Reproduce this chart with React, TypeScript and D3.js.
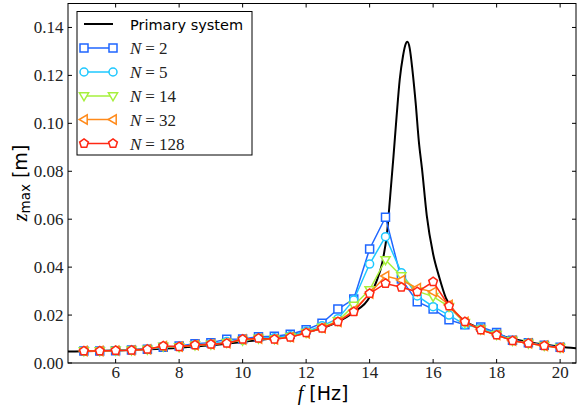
import React from "react";
import * as d3 from "d3";

// ---- data ----
const freqs = [5, 5.5, 6, 6.5, 7, 7.5, 8, 8.5, 9, 9.5, 10, 10.5, 11, 11.5, 12, 12.5, 13, 13.5, 14, 14.5, 15, 15.5, 16, 16.5, 17, 17.5, 18, 18.5, 19, 19.5, 20];

const zN2 = [0.0050, 0.0050, 0.0051, 0.0054, 0.0057, 0.0066, 0.0071, 0.0080, 0.0085, 0.0099, 0.0100, 0.0110, 0.0112, 0.0120, 0.0139, 0.0166, 0.0225, 0.0267, 0.0476, 0.0608, 0.0350, 0.0256, 0.0225, 0.0180, 0.0160, 0.0150, 0.0127, 0.0095, 0.0085, 0.0074, 0.0066];
const zN5 = [0.0050, 0.0050, 0.0052, 0.0054, 0.0057, 0.0068, 0.0068, 0.0076, 0.0080, 0.0090, 0.0095, 0.0105, 0.0105, 0.0114, 0.0132, 0.0155, 0.0185, 0.0263, 0.0413, 0.0527, 0.0377, 0.0280, 0.0235, 0.0200, 0.0160, 0.0145, 0.0122, 0.0094, 0.0084, 0.0073, 0.0065];
const zN14 = [0.0050, 0.0050, 0.0052, 0.0053, 0.0057, 0.0069, 0.0067, 0.0074, 0.0077, 0.0085, 0.0094, 0.0102, 0.0100, 0.0110, 0.0126, 0.0148, 0.0175, 0.0240, 0.0305, 0.0430, 0.0363, 0.0300, 0.0277, 0.0235, 0.0168, 0.0140, 0.0118, 0.0093, 0.0082, 0.0072, 0.0064];
const zN32 = [0.0050, 0.0050, 0.0052, 0.0053, 0.0057, 0.0070, 0.0068, 0.0075, 0.0078, 0.0083, 0.0098, 0.0102, 0.0099, 0.0108, 0.0124, 0.0146, 0.0172, 0.0220, 0.0290, 0.0363, 0.0346, 0.0312, 0.0297, 0.0242, 0.0172, 0.0139, 0.0117, 0.0093, 0.0082, 0.0072, 0.0064];
const zN128 = [0.0050, 0.0050, 0.0052, 0.0053, 0.0057, 0.0071, 0.0068, 0.0075, 0.0078, 0.0082, 0.0099, 0.0103, 0.0099, 0.0107, 0.0126, 0.0145, 0.0172, 0.0214, 0.0290, 0.0332, 0.0316, 0.0297, 0.0339, 0.0238, 0.0172, 0.0138, 0.0117, 0.0093, 0.0082, 0.0072, 0.0064];

const primaryF = [4.5, 5, 6, 7, 8, 9, 10, 11, 12, 12.5, 13, 13.5, 14, 14.2, 14.4, 14.55, 14.65, 14.75, 14.85, 14.95, 15.05, 15.12, 15.19, 15.26, 15.35, 15.45, 15.55, 15.65, 15.8, 16, 16.2, 16.4, 16.7, 17, 17.5, 18, 18.5, 19, 19.5, 20, 20.5];
const primaryZ = [0.0048, 0.0049, 0.0052, 0.0057, 0.0064, 0.0074, 0.0088, 0.0104, 0.0128, 0.0146, 0.0172, 0.0212, 0.0275, 0.0335, 0.0420, 0.0545, 0.0700, 0.0860, 0.1030, 0.1185, 0.1280, 0.1325, 0.1340, 0.1315, 0.1220, 0.1085, 0.0925, 0.0810, 0.0615, 0.0455, 0.0355, 0.0272, 0.0210, 0.0175, 0.0143, 0.0120, 0.0101, 0.0088, 0.0077, 0.0068, 0.0062];

const xTicks = [6, 8, 10, 12, 14, 16, 18, 20];
const yTicks = [0, 0.02, 0.04, 0.06, 0.08, 0.1, 0.12, 0.14];

const seriesNames = ["N2", "N5", "N14", "N32", "N128"];
const seriesLabels = ["2", "5", "14", "32", "128"];
const seriesValues = [zN2, zN5, zN14, zN32, zN128];
const seriesColors = ["#1f66ff", "#1ec8ff", "#a6f03c", "#ff8a1a", "#ff2814"];
const seriesMarkers = ["square", "circle", "triDown", "triLeft", "pentagon"];

// ---- layout ----
const W = 577;
const H = 406;
const L = 68, R = 576, T = 3.5, B = 363;

const x = d3.scaleLinear().domain([4.5, 20.5]).range([L, R]);
const y = d3.scaleLinear().domain([0, 0.15]).range([B, T]);

function markerPath(kind: string): string {
  switch (kind) {
    case "square":
      return "M-4,-4H4V4H-4Z";
    case "circle":
      return "M4,0A4,4 0 1,1 -4,0A4,4 0 1,1 4,0Z";
    case "triDown":
      return "M-4.6,-3.2L4.6,-3.2L0,4.8Z";
    case "triLeft":
      return "M3.2,-4.6L3.2,4.6L-4.8,0Z";
    case "pentagon": {
      const r = 4.6;
      const pts = d3.range(5).map((i) => {
        const a = -Math.PI / 2 + (i * 2 * Math.PI) / 5;
        return [r * Math.cos(a), r * Math.sin(a)];
      });
      return "M" + pts.map((p) => p[0].toFixed(2) + "," + p[1].toFixed(2)).join("L") + "Z";
    }
  }
  return "";
}

const serif = "'Liberation Serif', 'DejaVu Serif', serif";
const sans = "'DejaVu Sans', sans-serif";

export default function App() {
  const line = d3
    .line<number>()
    .x((_, i) => x(freqs[i]))
    .y((d) => y(d));
  const primaryLine = d3
    .line<number>()
    .x((_, i) => x(primaryF[i]))
    .y((d) => y(d))
    .curve(d3.curveMonotoneX);

  const legX0 = 84, legX1 = 113, legText = 130;
  const legRows = [24, 48, 72, 96, 119.5, 143.5];

  return (
    <svg width={W} height={H} style={{ position: "absolute", left: 0, top: 0, background: "#fff" }}>
      <defs>
        <clipPath id="plotclip">
          <rect x={L} y={T} width={R - L} height={B - T} />
        </clipPath>
      </defs>
      <rect x={0} y={0} width={W} height={H} fill="#fff" />

      <g clipPath="url(#plotclip)">
        <path d={primaryLine(primaryZ) || ""} fill="none" stroke="#000" strokeWidth={2} />
        {seriesValues.map((vals, si) => (
          <g key={seriesNames[si]}>
            <path d={line(vals) || ""} fill="none" stroke={seriesColors[si]} strokeWidth={1.5} />
            {vals.map((v, i) => (
              <path
                key={i}
                d={markerPath(seriesMarkers[si])}
                transform={`translate(${x(freqs[i])},${y(v)})`}
                fill="#fff"
                stroke={seriesColors[si]}
                strokeWidth={1.5}
              />
            ))}
          </g>
        ))}
      </g>

      {/* spines */}
      <rect x={L} y={T} width={R - L} height={B - T} fill="none" stroke="#000" strokeWidth={1} />

      {/* x ticks */}
      {xTicks.map((t) => (
        <g key={"x" + t}>
          <line x1={x(t)} x2={x(t)} y1={B} y2={B - 4} stroke="#000" strokeWidth={1} />
          <line x1={x(t)} x2={x(t)} y1={T} y2={T + 4} stroke="#000" strokeWidth={1} />
          <text x={x(t)} y={378} textAnchor="middle" fontFamily={serif} fontSize={17} fill="#222">
            {t}
          </text>
        </g>
      ))}

      {/* y ticks */}
      {yTicks.map((t) => (
        <g key={"y" + t}>
          <line x1={L} x2={L + 4} y1={y(t)} y2={y(t)} stroke="#000" strokeWidth={1} />
          <line x1={R} x2={R - 4} y1={y(t)} y2={y(t)} stroke="#000" strokeWidth={1} />
          <text x={63.5} y={y(t) + 5.8} textAnchor="end" fontFamily={serif} fontSize={17} fill="#222">
            {t.toFixed(2)}
          </text>
        </g>
      ))}

      {/* axis labels */}
      <text x={323} y={400} textAnchor="middle" fontFamily={sans} fontSize={19} fill="#000">
        <tspan fontFamily={serif} fontStyle="italic" fontSize={20}>f</tspan>
        <tspan> [Hz]</tspan>
      </text>
      <text transform="translate(26.5,183) rotate(-90)" textAnchor="middle" fontFamily={sans} fontSize={19} fill="#000">
        <tspan fontFamily={serif} fontStyle="italic" fontSize={20}>z</tspan>
        <tspan fontSize={13.5} dy={3.5}>max</tspan>
        <tspan dy={-3.5}> [m]</tspan>
      </text>

      {/* legend */}
      <rect x={77} y={11.5} width={175} height={143.5} fill="#fff" stroke="#000" strokeWidth={1} />
      <line x1={legX0} x2={legX1} y1={legRows[0]} y2={legRows[0]} stroke="#000" strokeWidth={2} />
      <text x={legText} y={legRows[0] + 5.5} fontFamily={sans} fontSize={14.5} fill="#000">
        Primary system
      </text>
      {seriesLabels.map((lab, si) => {
        const ry = legRows[si + 1];
        return (
          <g key={"leg" + si}>
            <line x1={legX0} x2={legX1} y1={ry} y2={ry} stroke={seriesColors[si]} strokeWidth={1.5} />
            {[legX0, legX1].map((mx, k) => (
              <path
                key={k}
                d={markerPath(seriesMarkers[si])}
                transform={`translate(${mx},${ry})`}
                fill="#fff"
                stroke={seriesColors[si]}
                strokeWidth={1.5}
              />
            ))}
            <text x={legText} y={ry + 6} fontFamily={serif} fontSize={17} fill="#222">
              <tspan fontStyle="italic">N</tspan>
              <tspan dx={4}>=</tspan>
              <tspan dx={4}>{lab}</tspan>
            </text>
          </g>
        );
      })}
    </svg>
  );
}
